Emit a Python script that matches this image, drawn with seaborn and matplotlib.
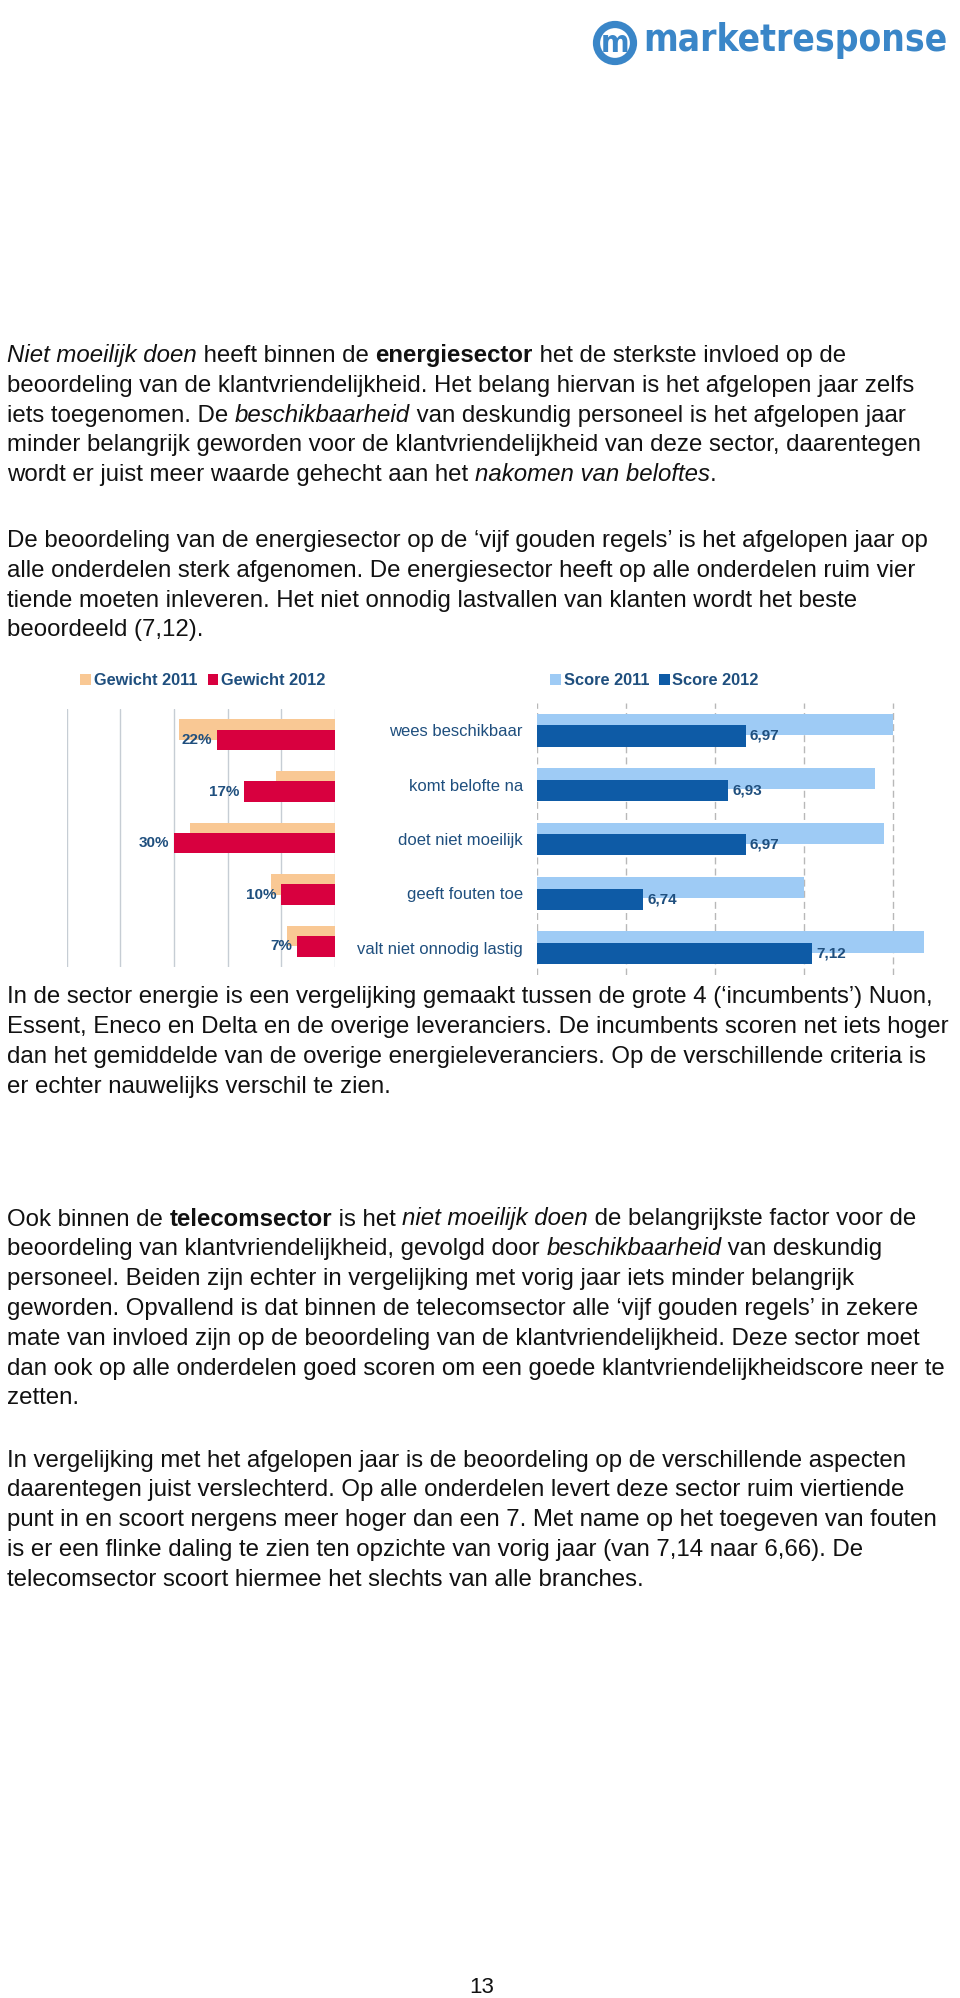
import numpy as np
import pandas as pd
import matplotlib
matplotlib.use("Agg")
import matplotlib.pyplot as plt
import seaborn as sns
from matplotlib.patches import Rectangle, Circle
from matplotlib.transforms import Affine2D

# ---------------- data ----------------
categories = ["wees beschikbaar", "komt belofte na", "doet niet moeilijk",
              "geeft fouten toe", "valt niet onnodig lastig"]
gewicht_2011 = [29, 11, 27, 12, 9]
gewicht_2012 = [22, 17, 30, 10, 7]
score_2011 = [7.30, 7.26, 7.28, 7.10, 7.37]
score_2012 = [6.97, 6.93, 6.97, 6.74, 7.12]
gewicht_ticks = [0, 10, 20, 30, 40, 50]
score_ticks = [6.5, 6.7, 6.9, 7.1, 7.3]
legend_gewicht = ["Gewicht 2011", "Gewicht 2012"]
legend_score = ["Score 2011", "Score 2012"]

# ---------------- style ----------------
sns.set_style("white")
plt.rcParams['font.family'] = ['Liberation Sans', 'DejaVu Sans']

C_G11 = "#F9C894"
C_G12 = "#D8003F"
C_S11 = "#9ECBF5"
C_S12 = "#0E5BA6"
TXT = "#1F4F7E"
BODY = "#111111"
LOGO = "#3A86C8"
BODY_FS = 17.28

W, H = 960, 1998
fig = plt.figure(figsize=(W / 100, H / 100), dpi=100)
fig.patch.set_facecolor("white")
PX = Affine2D().scale(1, -1).translate(0, H)
renderer = fig.canvas.get_renderer()


def rect(x0, y0, x1, y1):
    return [x0 / W, 1 - y1 / H, (x1 - x0) / W, (y1 - y0) / H]


STY = {"n": {}, "i": {"style": "italic"}, "b": {"weight": "bold"}}


def text_width(s, fs, st, **extra):
    kw = dict(STY[st])
    kw.update(extra)
    t = fig.text(0, 0, "|" + s + "|", fontsize=fs, transform=PX, **kw)
    w1 = t.get_window_extent(renderer).width
    t.set_text("||")
    w0 = t.get_window_extent(renderer).width
    t.remove()
    return w1 - w0


def draw_line(x, y, segs, fs=BODY_FS, color=BODY):
    if isinstance(segs, str):
        segs = [(segs, "n")]
    for s, st in segs:
        fig.text(x, y, s, transform=PX, fontsize=fs, color=color,
                 va="baseline", ha="left", **STY[st])
        x += text_width(s, fs, st)


def draw_par(y0, lines, step=29.8):
    for k, ln in enumerate(lines):
        draw_line(7, y0 + k * step, ln)


# ---------------- logo ----------------
fig.add_artist(Circle((615, 43), 18.5, transform=PX, fill=False, ec=LOGO, lw=5.2))
fig.text(615, 44, "m", transform=PX, fontsize=22, fontweight="bold", color=LOGO,
         ha="center", va="center", family="DejaVu Sans", fontstretch="condensed")
logo_kw = dict(family="DejaVu Sans", fontstretch="condensed")
fs_logo = 20 * 305 / text_width("marketresponse", 20, "b", **logo_kw)
fig.text(643, 51, "marketresponse", transform=PX, fontsize=fs_logo, color=LOGO,
         fontweight="bold", ha="left", va="baseline", **logo_kw)

# ---------------- paragraphs ----------------
par1 = [
    [("Niet moeilijk doen", "i"), (" heeft binnen de ", "n"), ("energiesector", "b"),
     (" het de sterkste invloed op de", "n")],
    "beoordeling van de klantvriendelijkheid. Het belang hiervan is het afgelopen jaar zelfs",
    [("iets toegenomen. De ", "n"), ("beschikbaarheid", "i"),
     (" van deskundig personeel is het afgelopen jaar", "n")],
    "minder belangrijk geworden voor de klantvriendelijkheid van deze sector, daarentegen",
    [("wordt er juist meer waarde gehecht aan het ", "n"), ("nakomen van beloftes", "i"), (".", "n")],
]
par2 = [
    "De beoordeling van de energiesector op de \u2018vijf gouden regels\u2019 is het afgelopen jaar op",
    "alle onderdelen sterk afgenomen. De energiesector heeft op alle onderdelen ruim vier",
    "tiende moeten inleveren. Het niet onnodig lastvallen van klanten wordt het beste",
    "beoordeeld (7,12).",
]
par3 = [
    "In de sector energie is een vergelijking gemaakt tussen de grote 4 (\u2018incumbents\u2019) Nuon,",
    "Essent, Eneco en Delta en de overige leveranciers. De incumbents scoren net iets hoger",
    "dan het gemiddelde van de overige energieleveranciers. Op de verschillende criteria is",
    "er echter nauwelijks verschil te zien.",
]
par4 = [
    [("Ook binnen de ", "n"), ("telecomsector", "b"), (" is het ", "n"), ("niet moeilijk doen", "i"),
     (" de belangrijkste factor voor de", "n")],
    [("beoordeling van klantvriendelijkheid, gevolgd door ", "n"), ("beschikbaarheid", "i"),
     (" van deskundig", "n")],
    "personeel. Beiden zijn echter in vergelijking met vorig jaar iets minder belangrijk",
    "geworden. Opvallend is dat binnen de telecomsector alle \u2018vijf gouden regels\u2019 in zekere",
    "mate van invloed zijn op de beoordeling van de klantvriendelijkheid. Deze sector moet",
    "dan ook op alle onderdelen goed scoren om een goede klantvriendelijkheidscore neer te",
    "zetten.",
]
par5 = [
    "In vergelijking met het afgelopen jaar is de beoordeling op de verschillende aspecten",
    "daarentegen juist verslechterd. Op alle onderdelen levert deze sector ruim viertiende",
    "punt in en scoort nergens meer hoger dan een 7. Met name op het toegeven van fouten",
    "is er een flinke daling te zien ten opzichte van vorig jaar (van 7,14 naar 6,66). De",
    "telecomsector scoort hiermee het slechts van alle branches.",
]
draw_par(362.0, par1)
draw_par(547.0, par2)
draw_par(1003.5, par3)
draw_par(1225.5, par4)
draw_par(1466.5, par5)

fig.text(481.5, 1993, "13", transform=PX, fontsize=16, color=BODY, ha="center", va="baseline")

# ---------------- chart data frame ----------------
df = pd.DataFrame({
    "categorie": categories,
    "gewicht_2011": gewicht_2011,
    "gewicht_2012": gewicht_2012,
    "score_2011": score_2011,
    "score_2012": score_2012,
})

# ---------------- left chart (Gewicht) ----------------
axL = fig.add_axes(rect(66.7, 709, 335, 967))
sns.barplot(data=df, x="gewicht_2011", y="categorie", orient="h", color=C_G11,
            width=0.4, saturation=1, linewidth=0, errorbar=None, ax=axL)
sns.barplot(data=df, x="gewicht_2012", y="categorie", orient="h", color=C_G12,
            width=0.4, saturation=1, linewidth=0, errorbar=None, ax=axL)
for p in axL.containers[0]:
    p.set_y(p.get_y() - 0.1)
for p in axL.containers[1]:
    p.set_y(p.get_y() + 0.1)
axL.set_xlim(50, 0)
axL.set_ylim(4.5, -0.5)
axL.set_xticks(gewicht_ticks)
axL.tick_params(length=0, labelbottom=False, labelleft=False)
axL.grid(axis="x", color="#C6CDD4", lw=1)
axL.set_axisbelow(True)
axL.set_xlabel("")
axL.set_ylabel("")
for s in axL.spines.values():
    s.set_visible(False)
axL.bar_label(axL.containers[1], labels=[f"{v}%" for v in gewicht_2012], padding=3.5,
              fontsize=11, fontweight="bold", color=TXT)

# ---------------- right chart (Score) ----------------
axR = fig.add_axes(rect(536.7, 703, 937, 975))
sns.barplot(data=df, x="score_2011", y="categorie", orient="h", color=C_S11,
            width=0.39, saturation=1, linewidth=0, errorbar=None, ax=axR)
sns.barplot(data=df, x="score_2012", y="categorie", orient="h", color=C_S12,
            width=0.39, saturation=1, linewidth=0, errorbar=None, ax=axR)
for p in axR.containers[0]:
    p.set_y(p.get_y() - 0.105)
for p in axR.containers[1]:
    p.set_y(p.get_y() + 0.105)
axR.set_xlim(6.5, 7.4)
axR.set_ylim(4.5, -0.5)
axR.set_xticks(score_ticks)
axR.tick_params(axis="x", length=0, labelbottom=False)
axR.tick_params(axis="y", length=0, pad=10, labelsize=12, labelcolor=TXT)
axR.grid(axis="x", color="#B8B8B8", lw=1, linestyle=(0, (5, 3)))
axR.set_axisbelow(True)
axR.set_xlabel("")
axR.set_ylabel("")
for s in axR.spines.values():
    s.set_visible(False)
axR.bar_label(axR.containers[1], labels=[f"{v:.2f}".replace(".", ",") for v in score_2012],
              padding=3, fontsize=11, fontweight="bold", color=TXT)

# ---------------- legends ----------------
def legend_item(x_sq, label, color):
    fig.add_artist(Rectangle((x_sq, 673.5), 10.5, 11.5, transform=PX, fc=color, ec="none"))
    fig.text(x_sq + 13.5, 685.2, label, transform=PX, fontsize=11.8, fontweight="bold",
             color=TXT, ha="left", va="baseline")

legend_item(80, legend_gewicht[0], C_G11)
legend_item(207.7, legend_gewicht[1], C_G12)
legend_item(550, legend_score[0], C_S11)
legend_item(659, legend_score[1], C_S12)

fig.savefig("out.png", dpi=100, facecolor="white")
